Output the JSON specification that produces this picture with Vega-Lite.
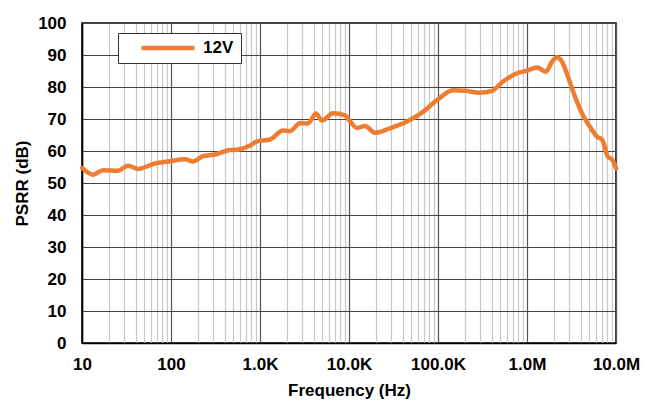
{
  "$schema": "https://vega.github.io/schema/vega-lite/v6.json",
  "autosize": "none",
  "width": 534,
  "height": 320,
  "padding": {"left": 82, "top": 23, "right": 40, "bottom": 61},
  "background": "white",
  "config": {
    "font": "Liberation Sans",
    "view": {"stroke": "black", "strokeWidth": 1.5}
  },
  "data": {
    "values": [
      {"f": 10, "psrr": 54.7, "series": "12V"},
      {"f": 13.3, "psrr": 52.6, "series": "12V"},
      {"f": 17.2, "psrr": 54.0, "series": "12V"},
      {"f": 25.3, "psrr": 53.8, "series": "12V"},
      {"f": 32.9, "psrr": 55.4, "series": "12V"},
      {"f": 42.6, "psrr": 54.4, "series": "12V"},
      {"f": 66, "psrr": 56.1, "series": "12V"},
      {"f": 92.5, "psrr": 56.7, "series": "12V"},
      {"f": 143.5, "psrr": 57.4, "series": "12V"},
      {"f": 176.6, "psrr": 56.7, "series": "12V"},
      {"f": 229, "psrr": 58.4, "series": "12V"},
      {"f": 312, "psrr": 58.9, "series": "12V"},
      {"f": 460, "psrr": 60.3, "series": "12V"},
      {"f": 552, "psrr": 60.4, "series": "12V"},
      {"f": 773, "psrr": 61.7, "series": "12V"},
      {"f": 925, "psrr": 63.0, "series": "12V"},
      {"f": 1295, "psrr": 63.6, "series": "12V"},
      {"f": 1811, "psrr": 66.4, "series": "12V"},
      {"f": 2173, "psrr": 66.2, "series": "12V"},
      {"f": 2812, "psrr": 68.7, "series": "12V"},
      {"f": 3459, "psrr": 68.6, "series": "12V"},
      {"f": 4254, "psrr": 71.7, "series": "12V"},
      {"f": 4977, "psrr": 69.5, "series": "12V"},
      {"f": 6610, "psrr": 71.8, "series": "12V"},
      {"f": 9013, "psrr": 71.1, "series": "12V"},
      {"f": 10260, "psrr": 69.3, "series": "12V"},
      {"f": 12300, "psrr": 67.2, "series": "12V"},
      {"f": 15130, "psrr": 67.8, "series": "12V"},
      {"f": 19600, "psrr": 65.7, "series": "12V"},
      {"f": 28900, "psrr": 67.1, "series": "12V"},
      {"f": 44900, "psrr": 69.2, "series": "12V"},
      {"f": 66100, "psrr": 72.0, "series": "12V"},
      {"f": 97500, "psrr": 75.9, "series": "12V"},
      {"f": 147600, "psrr": 79.0, "series": "12V"},
      {"f": 201000, "psrr": 78.8, "series": "12V"},
      {"f": 296000, "psrr": 78.2, "series": "12V"},
      {"f": 404600, "psrr": 78.8, "series": "12V"},
      {"f": 537000, "psrr": 81.7, "series": "12V"},
      {"f": 772000, "psrr": 84.3, "series": "12V"},
      {"f": 1000000, "psrr": 85.1, "series": "12V"},
      {"f": 1295000, "psrr": 86.1, "series": "12V"},
      {"f": 1634000, "psrr": 84.8, "series": "12V"},
      {"f": 1909000, "psrr": 87.9, "series": "12V"},
      {"f": 2173000, "psrr": 89.3, "series": "12V"},
      {"f": 2473000, "psrr": 87.9, "series": "12V"},
      {"f": 2888000, "psrr": 83.2, "series": "12V"},
      {"f": 3459000, "psrr": 77.0, "series": "12V"},
      {"f": 4254000, "psrr": 71.2, "series": "12V"},
      {"f": 5101000, "psrr": 67.6, "series": "12V"},
      {"f": 6120000, "psrr": 64.5, "series": "12V"},
      {"f": 6966000, "psrr": 63.6, "series": "12V"},
      {"f": 8128000, "psrr": 58.2, "series": "12V"},
      {"f": 9013000, "psrr": 57.4, "series": "12V"},
      {"f": 10000000, "psrr": 54.6, "series": "12V"}
    ]
  },
  "mark": {"type": "line", "strokeWidth": 4.5, "interpolate": "monotone", "strokeCap": "round", "strokeJoin": "round"},
  "encoding": {
    "x": {
      "field": "f",
      "type": "quantitative",
      "scale": {"type": "log", "domain": [10, 10000000], "nice": false},
      "axis": {
        "title": "Frequency (Hz)",
        "titleFont": "Liberation Sans",
        "titleFontSize": 17,
        "titleFontWeight": "bold",
        "titleColor": "black",
        "titlePadding": 10,
        "values": [10,20,30,40,50,60,70,80,90,100,200,300,400,500,600,700,800,900,1000,2000,3000,4000,5000,6000,7000,8000,9000,10000,20000,30000,40000,50000,60000,70000,80000,90000,100000,200000,300000,400000,500000,600000,700000,800000,900000,1000000,2000000,3000000,4000000,5000000,6000000,7000000,8000000,9000000,10000000],
        "labelExpr": "datum.value==10?'10':datum.value==100?'100':datum.value==1000?'1.0K':datum.value==10000?'10.0K':datum.value==100000?'100.0K':datum.value==1000000?'1.0M':datum.value==10000000?'10.0M':''",
        "labelFont": "Liberation Sans",
        "labelFontSize": 17,
        "labelFontWeight": "bold",
        "labelColor": "black",
        "labelPadding": 13,
        "labelOverlap": false,
        "labelFlush": false,
        "ticks": false,
        "domainColor": "black",
        "domainWidth": 1.5,
        "grid": true,
        "gridColor": {"condition": {"test": "abs(log(datum.value)/LN10 - round(log(datum.value)/LN10)) < 0.001", "value": "#555555"}, "value": "#c8c8c8"},
        "gridWidth": 1.2,
        "gridOpacity": 1
      }
    },
    "y": {
      "field": "psrr",
      "type": "quantitative",
      "scale": {"domain": [0, 100], "nice": false},
      "axis": {
        "title": "PSRR (dB)",
        "titleFont": "Liberation Sans",
        "titleFontSize": 17,
        "titleFontWeight": "bold",
        "titleColor": "black",
        "titlePadding": 6,
        "values": [0,10,20,30,40,50,60,70,80,90,100],
        "labelFont": "Liberation Sans",
        "labelFontSize": 17,
        "labelFontWeight": "bold",
        "labelColor": "black",
        "labelPadding": 16,
        "ticks": false,
        "domainColor": "black",
        "domainWidth": 1.5,
        "grid": true,
        "gridColor": "#444444",
        "gridWidth": 1.2,
        "gridOpacity": 1
      }
    },
    "color": {
      "field": "series",
      "type": "nominal",
      "scale": {"range": ["#ED7D31"]},
      "legend": {
        "title": null,
        "orient": "none",
        "legendX": 36,
        "legendY": 10,
        "symbolType": "stroke",
        "symbolStrokeWidth": 4.5,
        "symbolSize": 2800,
        "symbolOffset": 14,
        "clipHeight": 16,
        "symbolStrokeColor": "#ED7D31",
        "labelFont": "Liberation Sans",
        "labelFontSize": 17,
        "labelFontWeight": "bold",
        "labelColor": "black",
        "labelOffset": 6,
        "padding": 7,
        "strokeColor": "#333333",
        "fillColor": "white",
        "cornerRadius": 0
      }
    }
  }
}
